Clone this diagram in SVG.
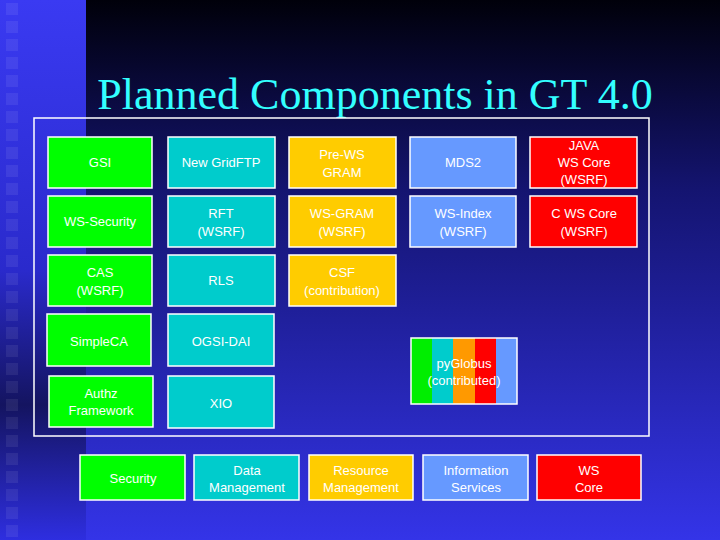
<svg xmlns="http://www.w3.org/2000/svg" width="720" height="540" viewBox="0 0 720 540">
<defs>
<linearGradient id="bg" x1="0" y1="0" x2="0" y2="1"><stop offset="0" stop-color="#00000a"/><stop offset="0.35" stop-color="#141470"/><stop offset="1" stop-color="#3434e8"/></linearGradient>
<linearGradient id="strip" x1="0" y1="0" x2="0" y2="1"><stop offset="0" stop-color="#3a3af2"/><stop offset="0.5" stop-color="#2a2acc"/><stop offset="0.75" stop-color="#141460"/><stop offset="1" stop-color="#2e2ee0"/></linearGradient>
<pattern id="sq" x="0" y="0" width="20" height="18" patternUnits="userSpaceOnUse"><rect x="6" y="3" width="12" height="12" fill="#ffffff" fill-opacity="0.07"/></pattern>
</defs>
<style>
.b{stroke:#ffffff;stroke-width:1.5}
.g{fill:#00ff00}.c{fill:#00cccc}.o{fill:#ffcc00}.l{fill:#6699ff}.r{fill:#ff0000}
text{font-family:"Liberation Sans",Arial,sans-serif;font-size:13px;fill:#ffffff;text-anchor:middle}
</style>
<rect width="720" height="540" fill="url(#bg)"/>
<rect width="86" height="540" fill="url(#strip)"/>
<rect x="0" y="0" width="26" height="540" fill="url(#sq)"/>
<text x="375" y="109" style="font-family:'Liberation Serif','Times New Roman',serif;font-size:44px;fill:#33ffff">Planned Components in GT 4.0</text>
<rect x="34" y="118" width="615" height="318" fill="none" stroke="#ffffff" stroke-width="1.5"/>
<g id="gsi"><rect class="b g" x="48" y="137" width="104" height="51"/><text x="100" y="167">GSI</text></g>
<g id="gridftp"><rect class="b c" x="168" y="137" width="107" height="51"/><text x="221" y="167">New GridFTP</text></g>
<g id="prews"><rect class="b o" x="289" y="137" width="107" height="51"/><text x="342" y="159">Pre-WS</text><text x="342" y="177">GRAM</text></g>
<g id="mds2"><rect class="b l" x="410" y="137" width="106" height="51"/><text x="463" y="167">MDS2</text></g>
<g id="java"><rect class="b r" x="530" y="137" width="107" height="51"/><text x="584" y="150">JAVA</text><text x="584" y="167">WS Core</text><text x="584" y="184">(WSRF)</text></g>
<g id="wssec"><rect class="b g" x="48" y="196" width="104" height="51"/><text x="100" y="226">WS-Security</text></g>
<g id="rft"><rect class="b c" x="168" y="196" width="107" height="51"/><text x="221" y="218">RFT</text><text x="221" y="236">(WSRF)</text></g>
<g id="wsgram"><rect class="b o" x="289" y="196" width="107" height="51"/><text x="342" y="218">WS-GRAM</text><text x="342" y="236">(WSRF)</text></g>
<g id="wsindex"><rect class="b l" x="410" y="196" width="106" height="51"/><text x="463" y="218">WS-Index</text><text x="463" y="236">(WSRF)</text></g>
<g id="cwscore"><rect class="b r" x="530" y="196" width="107" height="51"/><text x="584" y="218">C WS Core</text><text x="584" y="236">(WSRF)</text></g>
<g id="cas"><rect class="b g" x="48" y="255" width="104" height="51"/><text x="100" y="277">CAS</text><text x="100" y="295">(WSRF)</text></g>
<g id="rls"><rect class="b c" x="168" y="255" width="107" height="51"/><text x="221" y="285">RLS</text></g>
<g id="csf"><rect class="b o" x="289" y="255" width="107" height="51"/><text x="342" y="277">CSF</text><text x="342" y="295">(contribution)</text></g>
<g id="simpleca"><rect class="b g" x="47" y="314" width="104" height="52"/><text x="99" y="346">SimpleCA</text></g>
<g id="ogsidai"><rect class="b c" x="168" y="314" width="106" height="52"/><text x="221" y="346">OGSI-DAI</text></g>
<g id="authz"><rect class="b g" x="49" y="376" width="104" height="51"/><text x="101" y="398">Authz</text><text x="101" y="415">Framework</text></g>
<g id="xio"><rect class="b c" x="168" y="376" width="106" height="52"/><text x="221" y="408">XIO</text></g>
<g id="pyglobus">
<rect x="411" y="338" width="21" height="66" fill="#00ee00"/><rect x="432" y="338" width="21" height="66" fill="#00cccc"/><rect x="453" y="338" width="22" height="66" fill="#ff9900"/><rect x="475" y="338" width="21" height="66" fill="#ff0000"/><rect x="496" y="338" width="21" height="66" fill="#6699ff"/>
<rect x="411" y="338" width="106" height="66" fill="none" stroke="#ffffff" stroke-width="1.5"/>
<text x="464" y="368">pyGlobus</text><text x="464" y="385">(contributed)</text></g>
<g id="security"><rect class="b g" x="80" y="455" width="105" height="45"/><text x="133" y="483">Security</text></g>
<g id="data"><rect class="b c" x="194" y="455" width="105" height="45"/><text x="247" y="475">Data</text><text x="247" y="492">Management</text></g>
<g id="resource"><rect class="b o" x="309" y="455" width="104" height="45"/><text x="361" y="475">Resource</text><text x="361" y="492">Management</text></g>
<g id="info"><rect class="b l" x="423" y="455" width="105" height="45"/><text x="476" y="475">Information</text><text x="476" y="492">Services</text></g>
<g id="wscore"><rect class="b r" x="537" y="455" width="104" height="45"/><text x="589" y="475">WS</text><text x="589" y="492">Core</text></g>
<g id="connectors"/>
</svg>
